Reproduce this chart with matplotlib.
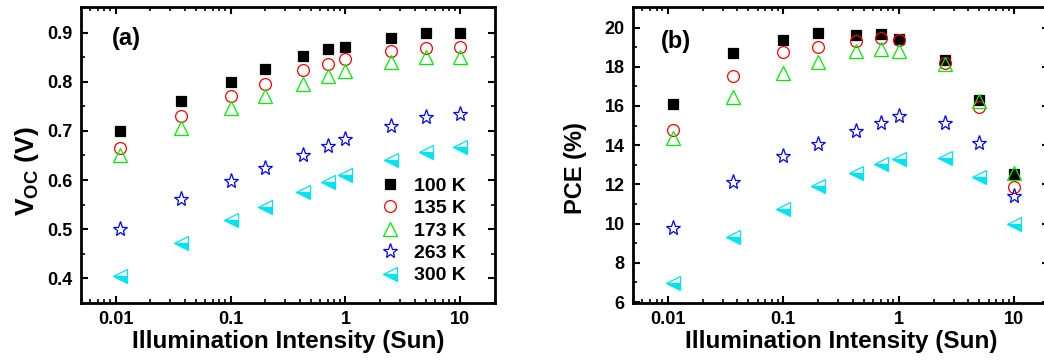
import matplotlib
matplotlib.use("Agg")
import matplotlib.pyplot as plt
from matplotlib.ticker import MultipleLocator, LogLocator, NullFormatter, FixedLocator, FixedFormatter

plt.rcParams['font.family'] = ['Liberation Sans', 'DejaVu Sans']
plt.rcParams['font.weight'] = 'bold'
plt.rcParams['mathtext.fontset'] = 'custom'
plt.rcParams['mathtext.rm'] = 'Liberation Sans:bold'
plt.rcParams['mathtext.bf'] = 'Liberation Sans:bold'

intensity = [0.011, 0.037, 0.1, 0.2, 0.43, 0.7, 1.0, 2.5, 5.0, 10.0]
temps = ["100 K", "135 K", "173 K", "263 K", "300 K"]

voc_100 = [0.700, 0.761, 0.800, 0.826, 0.852, 0.866, 0.871, 0.889, 0.900, 0.899]
voc_135 = [0.666, 0.730, 0.770, 0.796, 0.823, 0.837, 0.846, 0.862, 0.869, 0.871]
voc_173 = [0.650, 0.706, 0.746, 0.770, 0.796, 0.811, 0.821, 0.840, 0.850, 0.851]
voc_263 = [0.501, 0.562, 0.599, 0.625, 0.652, 0.670, 0.683, 0.710, 0.728, 0.735]
voc_300 = [0.405, 0.473, 0.518, 0.546, 0.576, 0.596, 0.611, 0.640, 0.657, 0.668]

pce_100 = [16.12, 18.71, 19.37, 19.71, 19.64, 19.69, 19.40, 18.33, 16.33, 12.52]
pce_135 = [14.76, 17.52, 18.74, 19.01, 19.32, 19.47, 19.39, 18.20, 15.95, 11.87]
pce_173 = [14.39, 16.46, 17.69, 18.23, 18.81, 18.93, 18.81, 18.16, 16.24, 12.60]
pce_263 = [9.78, 12.11, 13.45, 14.05, 14.71, 15.14, 15.49, 15.15, 14.12, 11.43]
pce_300 = [6.99, 9.30, 10.77, 11.92, 12.57, 13.06, 13.30, 13.33, 12.38, 10.00]

x_ticks = [0.01, 0.1, 1, 10]
x_ticklabels = ["0.01", "0.1", "1", "10"]

cyan = '#00E4F2'
styles = [
    dict(marker='s', color='black', mfc='black', mec='black', ms=7.5),
    dict(marker='o', color='red', mfc='none', mec='red', ms=8.5),
    dict(marker='^', color='#00EE00', mfc='none', mec='#00EE00', ms=9.5),
    dict(marker='*', color='blue', mfc='none', mec='blue', ms=11),
    dict(marker='<', color=cyan, mfc=cyan, mec=cyan, ms=9.5,
         fillstyle='bottom', markerfacecoloralt='white'),
]

fig = plt.figure(figsize=(10.44, 3.6), dpi=100)
ax1 = fig.add_axes([81/1044, 1-303/360, (495-81)/1044, (303-7)/360])
ax2 = fig.add_axes([633/1044, 1-303/360, (1049-633)/1044, (303-7)/360])

def style_axes(ax):
    ax.set_xscale('log')
    ax.set_xlim(0.005, 20)
    ax.xaxis.set_major_locator(FixedLocator(x_ticks))
    ax.xaxis.set_major_formatter(FixedFormatter(x_ticklabels))
    ax.xaxis.set_minor_locator(LogLocator(base=10, subs=range(2, 10), numticks=20))
    ax.xaxis.set_minor_formatter(NullFormatter())
    ax.tick_params(which='both', direction='in', top=True, right=True)
    ax.tick_params(which='major', length=5, width=1.5, labelsize=13, pad=6)
    ax.tick_params(which='minor', length=3, width=1.2)
    for s in ax.spines.values():
        s.set_linewidth(2)
    for lab in ax.get_xticklabels() + ax.get_yticklabels():
        lab.set_fontweight('bold')
    ax.set_xlabel('Illumination Intensity (Sun)', fontsize=17.5, fontweight='bold', labelpad=1)

for vals, lab, st in zip([voc_100, voc_135, voc_173, voc_263, voc_300], temps, styles):
    ax1.plot(intensity, vals, linestyle='none', mew=0.9, label=lab, **st)
for vals, lab, st in zip([pce_100, pce_135, pce_173, pce_263, pce_300], temps, styles):
    ax2.plot(intensity, vals, linestyle='none', mew=0.9, label=lab, **st)

style_axes(ax1)
ax1.set_ylim(0.35, 0.952)
ax1.yaxis.set_major_locator(MultipleLocator(0.1))
ax1.yaxis.set_minor_locator(MultipleLocator(0.05))
ax1.set_ylabel(r'V$_{\mathbf{OC}}$ (V)', fontsize=19, fontweight='bold')
ax1.yaxis.set_label_coords(-0.097, 0.446)
ax1.text(0.109, 0.892, '(a)', transform=ax1.transAxes, fontsize=17, fontweight='bold',
         ha='center', va='center')
leg = ax1.legend(loc='upper left', bbox_to_anchor=(0.70, 0.452), frameon=False,
                 fontsize=14, handletextpad=0.6, labelspacing=0.25, handlelength=1.2,
                 borderaxespad=0)
for t in leg.get_texts():
    t.set_fontweight('bold')

style_axes(ax2)
ax2.set_ylim(5.95, 21.05)
ax2.yaxis.set_major_locator(MultipleLocator(2))
ax2.yaxis.set_minor_locator(MultipleLocator(1))
ax2.set_ylabel('PCE (%)', fontsize=17, fontweight='bold')
ax2.yaxis.set_label_coords(-0.111, 0.456)
ax2.text(0.103, 0.882, '(b)', transform=ax2.transAxes, fontsize=17, fontweight='bold',
         ha='center', va='center')

fig.savefig('out.png', dpi=100)
